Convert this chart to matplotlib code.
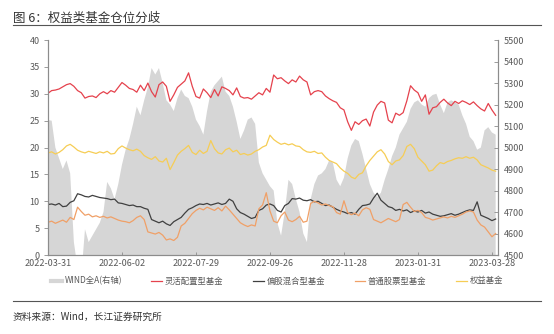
import numpy as np
import matplotlib.pyplot as plt
from matplotlib.lines import Line2D

plt.rcParams['font.family'] = ['Noto Sans CJK SC', 'DejaVu Sans']

# 交易日序号（每两个交易日取一个点）
tick_labels = ["2022-03-31", "2022-06-02", "2022-07-29", "2022-09-26",
               "2022-11-28", "2023-01-31", "2023-03-28"]
tick_pos = [0, 40, 80, 120, 160, 200, 240]

# WIND全A（右轴）
wind_a = [5128, 5125, 5000, 4950, 4900, 4940, 4880, 4560, 4440, 4400,
          4620, 4560, 4590, 4620, 4650, 4700, 4840, 4810, 4760, 4830,
          4920, 4990, 5040, 5110, 5190, 5150, 5220, 5280, 5370, 5340,
          5370, 5300, 5220, 5200, 5170, 5230, 5270, 5240, 5230, 5190,
          5130, 5100, 5060, 5170, 5260, 5290, 5310, 5330, 5260, 5240,
          5190, 5120, 5040, 5080, 5130, 5140, 5110, 4930, 4880, 4850,
          4820, 4800, 4650, 4590, 4700, 4850, 4830, 4760, 4700, 4600,
          4560, 4760, 4830, 4870, 4880, 4900, 4940, 4930, 4850, 4820,
          4860, 4950, 5010, 5040, 5030, 4970, 4900, 4830, 4790, 4770,
          4790, 4850, 4900, 4960, 5000, 5060, 5090, 5120, 5180, 5210,
          5220, 5200, 5190, 5230, 5245, 5250, 5200, 5160, 5210, 5220,
          5210, 5200, 5150, 5110, 5050, 5030, 4990, 5000, 5080, 5095,
          5070, 5060]

# 灵活配置型基金
flexible = [30.1, 30.6, 30.7, 30.9, 31.3, 31.7, 31.9, 31.4, 30.6, 30.2,
            29.2, 29.5, 29.6, 29.3, 30.0, 30.4, 30.0, 30.6, 30.3, 31.2,
            32.1, 31.6, 31.0, 30.8, 30.3, 31.6, 30.6, 32.0, 30.4, 29.4,
            31.7, 32.2, 31.4, 28.6, 29.8, 31.2, 31.8, 32.4, 33.9, 31.4,
            29.5, 29.2, 30.9, 30.2, 29.3, 30.8, 29.6, 31.3, 31.0, 30.6,
            29.8, 31.1, 29.5, 29.2, 29.3, 29.0, 29.6, 30.2, 29.8, 31.0,
            30.3, 33.5, 32.8, 33.0, 32.4, 31.9, 32.6, 32.2, 33.3, 32.6,
            32.2, 29.8, 30.4, 30.6, 30.4, 29.6, 29.1, 28.7, 28.4, 27.4,
            27.0, 24.8, 23.2, 24.8, 24.3, 25.0, 25.3, 24.0, 26.6, 27.9,
            28.6, 28.3, 25.1, 24.6, 26.4, 26.0, 26.5, 28.7, 31.5, 30.7,
            30.2, 28.6, 29.8, 26.2, 27.4, 27.6, 28.4, 29.0, 28.3, 27.8,
            28.6, 28.2, 28.7, 28.4, 28.0, 28.5, 27.8, 27.2, 26.8, 28.2,
            27.0, 26.0]

# 偏股混合型基金
mixed = [9.4, 9.5, 9.3, 9.6, 9.0, 9.1, 9.8, 10.1, 11.4, 11.2,
         10.9, 10.8, 11.1, 10.9, 10.7, 10.6, 10.5, 10.3, 10.4, 9.7,
         9.6, 9.4, 9.2, 9.3, 9.0, 9.0, 8.7, 8.5, 6.6, 6.3,
         6.0, 6.3, 5.8, 5.5, 6.2, 6.6, 7.0, 7.8, 8.5, 8.8,
         9.2, 9.5, 9.4, 9.6, 9.3, 9.5, 9.7, 9.4, 9.6, 10.4,
         10.0, 8.6, 7.9, 7.6, 7.2, 6.8, 7.0, 8.3, 8.6, 9.3,
         9.5, 9.2, 8.3, 8.0, 9.2, 9.6, 10.5, 10.4, 10.6, 10.2,
         10.1, 10.3, 9.9, 10.0, 9.6, 9.2, 9.3, 8.9, 8.5, 8.2,
         8.0, 7.7, 7.9, 7.6, 8.5, 9.2, 9.3, 9.5, 10.6, 11.5,
         10.2, 9.6, 9.0, 8.8, 8.3, 8.5, 8.2, 8.4, 7.9, 8.2,
         8.0, 8.3, 7.8, 8.0, 7.6, 7.4, 7.2, 7.3, 7.5, 7.7,
         7.4, 7.6, 7.9, 8.2, 8.4, 8.3, 9.9, 7.4, 7.1, 6.8,
         6.4, 6.7]

# 普通股票型基金
stock = [6.1, 6.3, 5.9, 6.2, 6.5, 6.1, 7.0, 6.6, 8.9, 8.1,
         7.4, 7.6, 7.1, 7.3, 7.0, 7.2, 6.9, 7.1, 6.8, 6.5,
         6.3, 6.2, 6.0, 6.4, 7.0, 7.3, 6.6, 4.3, 4.1, 3.9,
         4.2, 3.7, 2.8, 3.0, 2.7, 3.3, 5.4, 5.9, 6.8, 7.7,
         8.3, 8.7, 8.4, 8.9, 8.6, 8.3, 8.8, 8.2, 9.1, 8.4,
         7.6, 6.8, 6.0, 5.6, 5.3, 5.6, 5.4, 8.6, 9.3, 11.6,
         8.2, 6.3, 6.0, 7.3, 8.0, 6.5, 6.2, 6.6, 7.2, 6.1,
         6.3, 9.6, 10.0, 9.7, 9.3, 9.5, 9.2, 9.0, 7.9, 7.6,
         10.1, 7.9, 7.5, 7.8, 7.3, 8.4, 8.8, 8.5, 6.6, 6.3,
         6.0, 6.4, 6.8, 6.5, 6.2, 6.6, 9.4, 9.8, 8.9, 8.1,
         8.3, 7.9, 7.0, 6.8, 6.5, 6.7, 6.9, 7.1, 6.9, 7.2,
         7.0, 7.3, 7.6, 8.0, 8.2, 8.0, 6.5, 5.6, 5.2, 4.3,
         3.4, 4.0]

# 权益基金
equity = [19.0, 19.2, 18.8, 19.1, 19.6, 20.3, 20.6, 20.1, 19.5, 19.2,
          19.0, 19.3, 19.1, 18.9, 19.2, 19.0, 19.3, 18.8, 18.9, 19.8,
          20.3, 19.9, 19.6, 19.4, 19.7, 19.3, 18.5, 18.1, 17.8, 18.3,
          17.5, 17.3, 18.0, 15.9, 17.2, 18.6, 19.3, 19.8, 20.4, 19.1,
          18.7, 19.5, 18.9, 19.3, 21.3, 19.8, 19.0, 18.8, 19.6, 19.9,
          19.2, 19.5, 18.7, 18.9, 18.6, 18.8, 19.3, 19.6, 20.1, 20.4,
          22.3, 21.5, 21.0, 20.6, 20.8, 20.5, 20.7, 20.3, 20.2, 19.6,
          19.2, 19.1, 19.3, 18.9, 19.0, 18.2, 17.6, 17.3, 17.0, 16.2,
          15.6, 15.2, 14.5, 14.2, 15.0, 15.3, 16.6, 17.6, 18.4, 19.2,
          19.6, 18.8, 17.4, 16.8, 17.5, 17.7, 18.5, 20.2, 20.6, 19.8,
          18.2, 17.5, 16.8, 15.6, 15.8, 16.6, 17.2, 17.0, 17.4, 17.6,
          17.9, 18.1, 18.0, 18.3, 18.0, 18.2, 17.7, 16.8, 16.5, 16.2,
          15.8, 15.6]

x = np.arange(len(wind_a)) * 2

c_gray = '#d6d6d6'
c_red = '#e5424d'
c_black = '#404040'
c_orange = '#f0a067'
c_yellow = '#f6cd55'
c_axis = '#8c8c8c'
c_text = '#595959'

fig = plt.figure(figsize=(5.54, 3.34), dpi=100)
ax = fig.add_axes([0.0866, 0.2365, 0.8124, 0.6435])
ax2 = ax.twinx()

ax2.fill_between(x, 0, wind_a, color=c_gray, lw=0)
ax2.set_ylim(4500, 5500)
ax2.set_yticks(np.arange(4500, 5501, 100))

ax.set_zorder(ax2.get_zorder() + 1)
ax.patch.set_visible(False)

ax.plot(x, flexible, color=c_red, lw=0.9)
ax.plot(x, mixed, color=c_black, lw=0.9)
ax.plot(x, stock, color=c_orange, lw=0.9)
ax.plot(x, equity, color=c_yellow, lw=0.9)

ax.set_ylim(0, 40)
ax.set_yticks(np.arange(0, 41, 5))
ax.set_xlim(0, 243.3)
ax.set_xticks(tick_pos)
ax.set_xticklabels(tick_labels)

for a in (ax, ax2):
    for s in a.spines.values():
        s.set_color(c_axis)
        s.set_linewidth(0.8)
    a.spines['top'].set_visible(False)
    a.tick_params(colors=c_axis, labelcolor=c_text, labelsize=6.5,
                  length=3, width=0.6)
ax.tick_params(axis='x', direction='in', length=2, pad=3)
ax.tick_params(axis='y', direction='out', pad=3)
ax2.tick_params(axis='y', direction='in', pad=4)

# 图例
handles = [
    Line2D([], [], color=c_gray, lw=3),
    Line2D([], [], color=c_red, lw=0.9),
    Line2D([], [], color=c_black, lw=0.9),
    Line2D([], [], color=c_orange, lw=0.9),
    Line2D([], [], color=c_yellow, lw=0.9),
]
labels = ["WIND全A(右轴)", "灵活配置型基金", "偏股混合型基金", "普通股票型基金", "权益基金"]
leg = fig.legend(handles, labels, loc='center', bbox_to_anchor=(0.5, 0.159),
                 ncol=5, frameon=False, fontsize=6, handlelength=1.3,
                 handletextpad=0.3, columnspacing=3.55)
for t in leg.get_texts():
    t.set_color(c_text)

# 标题与来源
fig.text(0.023, 0.945, "图 6：权益类基金仓位分歧", fontsize=9, color='#333333',
         ha='left', va='center')
fig.add_artist(Line2D([0.023, 0.977], [1 - 25 / 334] * 2, color='#555555', lw=0.8))
fig.add_artist(Line2D([0.023, 0.977], [1 - 301 / 334] * 2, color='#555555', lw=0.8))
fig.text(0.023, 1 - 317 / 334, "资料来源：Wind，长江证券研究所", fontsize=7,
         color='#333333', ha='left', va='center')

fig.savefig('out.png', dpi=100)
